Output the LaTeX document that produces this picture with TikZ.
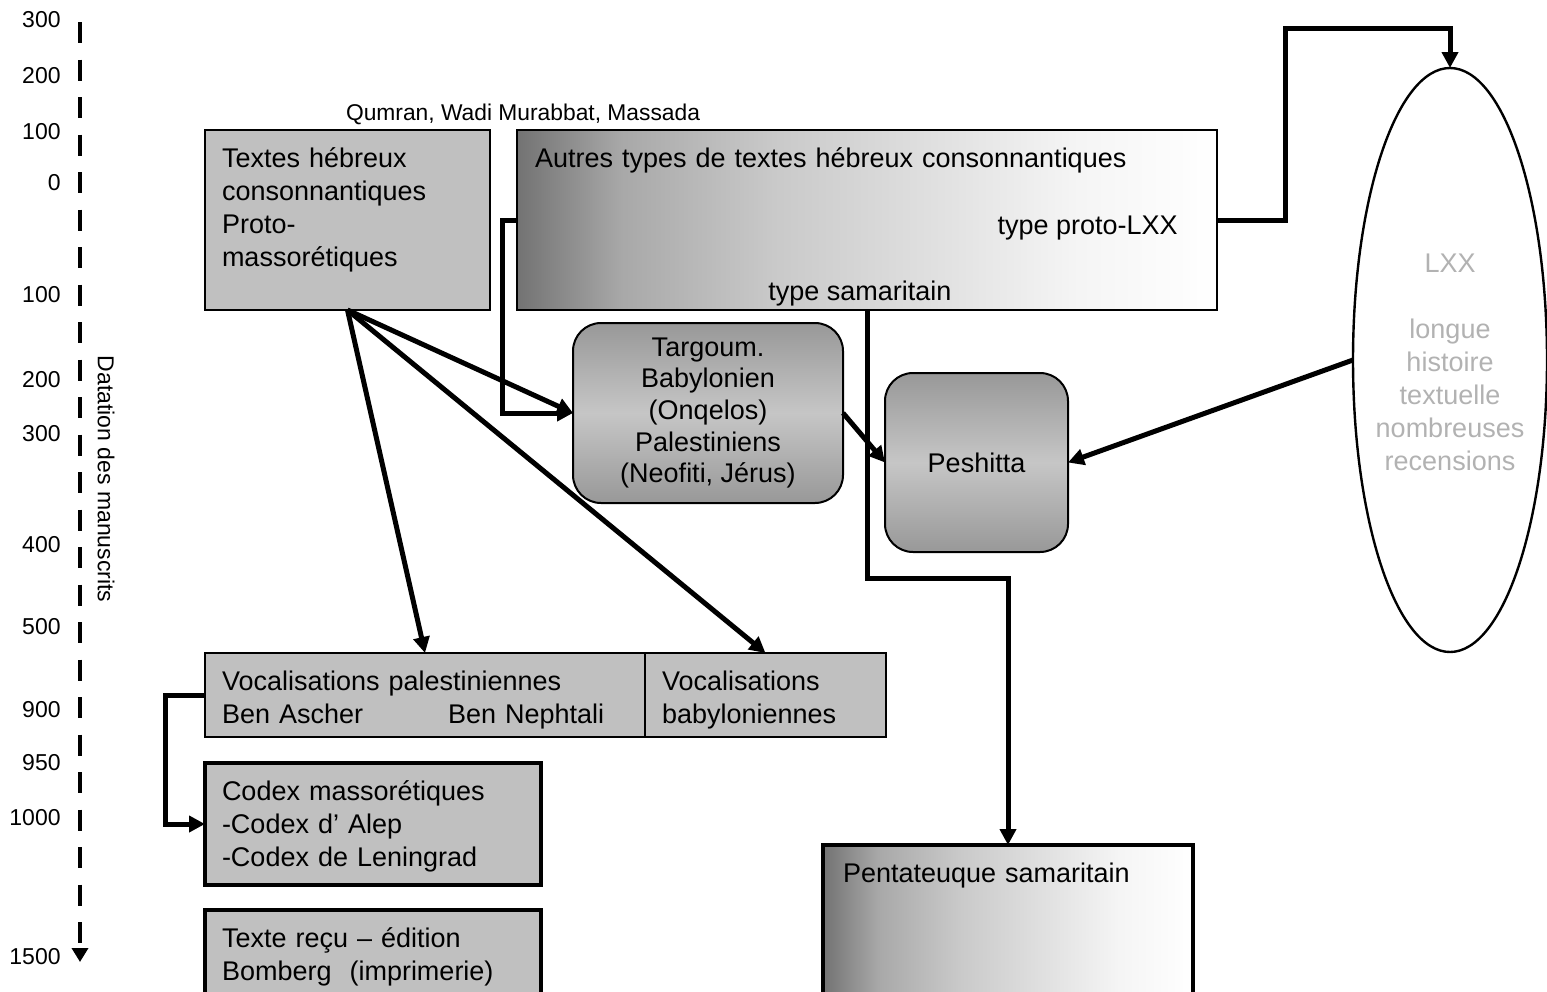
\documentclass[tikz,border=0pt]{standalone}
\usepackage{fontspec}
\setmainfont{Liberation Sans}
\usetikzlibrary{shapes.geometric, arrows.meta, positioning}
\definecolor{boxgray}{RGB}{192,192,192}
\definecolor{roundedge}{RGB}{152,152,152}
\definecolor{roundmid}{RGB}{198,198,198}
\definecolor{lxxgray}{RGB}{178,178,178}
\pgfdeclarehorizontalshading{fadegray}{100bp}{%
    rgb(0bp)=(0.45,0.45,0.45);
    rgb(25bp)=(0.45,0.45,0.45);
    rgb(32.5bp)=(0.66,0.66,0.66);
    rgb(43.5bp)=(0.79,0.79,0.79);
    rgb(55bp)=(0.88,0.88,0.88);
    rgb(65bp)=(0.96,0.96,0.96);
    rgb(75bp)=(1,1,1);
    rgb(100bp)=(1,1,1)}
\newcommand{\diagfont}{\fontsize{13.5}{16.5}\selectfont}
\newcommand{\axisfont}{\fontsize{11.5}{13}\selectfont}
\tikzset{
    boxbase/.style={
        rectangle,
        draw=black,
        line width=1pt,
        outer sep=0pt,
        inner xsep=8.5pt,
        inner ysep=0pt,
        text height=18.5pt,
        align=left,
        anchor=north west,
        font=\diagfont
    },
    graybox/.style={boxbase, fill=boxgray},
    heavybox/.style={graybox, line width=2.2pt},
    fadebox/.style={boxbase, shading=fadegray},
    roundbox/.style={
        rectangle,
        rounded corners=14pt,
        draw=black,
        line width=1pt,
        top color=roundedge,
        bottom color=roundedge,
        middle color=roundmid,
        outer sep=0pt,
        align=center,
        anchor=north west,
        font=\diagfont
    },
    lxxshape/.style={
        ellipse,
        draw=black,
        line width=1.2pt,
        fill=white,
        minimum width=97pt,
        minimum height=292pt,
        inner sep=0pt,
        outer sep=0pt
    },
    lxxtext/.style={align=center, text=lxxgray, font=\diagfont},
    plaintext/.style={inner sep=0pt, font=\diagfont},
    % time scale
    yearlabel/.style={anchor=east, inner sep=0pt, font=\axisfont},
    timeaxis/.style={
        line width=2.4pt,
        dash pattern=on 10.5pt off 8.25pt,
        -{Triangle[length=7pt, width=8pt]}
    },
    flow/.style={
        line width=2.5pt,
        -{Triangle[length=8pt, width=8pt]}
    }
}
\begin{document}
\begin{tikzpicture}[x=0.5pt, y=-0.5pt, node distance=13pt]
    \useasboundingbox (0,0) rectangle (1547,991);

    % time scale on the left
    \coordinate (axistop) at (80,22);
    \coordinate (axisend) at (80,962);
    \draw[timeaxis] (axistop) -- (axisend);
    \foreach \yr/\ypos in {300/20, 200/76, 100/132, 0/183, 100/295, 200/380, 300/434,
                           400/545, 500/627, 900/710, 950/763, 1000/818, 1500/957}
        \node[yearlabel] (year\ypos) at (61,\ypos) {\yr};
    \node[font=\axisfont, rotate=-90] (datation) at (106,479) {Datation des manuscrits};

    \node[font=\fontsize{11.4}{13}\selectfont, anchor=base] (qumran) at (523,120) {Qumran, Wadi Murabbat, Massada};
    \node[graybox, text width=125.5pt, text depth=71.5pt] (textes) at (205,130) {Textes hébreux\\consonnantiques\\Proto-\\massorétiques};
    \node[fadebox, inner xsep=9pt, text width=332pt, text depth=71.5pt] (autres) at (517,130) {Autres types de textes hébreux consonnantiques};
    \node[plaintext, anchor=base east] (protolxx) at (1178,234) {type proto-LXX};
    \node[plaintext, anchor=base] (samtype) at (860,300) {type samaritain};

    \node[roundbox, minimum width=135pt, minimum height=90pt, font=\fontsize{13.5}{15.8}\selectfont] (targoum) at (573,323) {Targoum.\\Babylonien\\(Onqelos)\\Palestiniens\\(Neofiti, Jérus)};
    \node[roundbox, minimum width=91.5pt, minimum height=89.5pt] (peshitta) at (885,373) {Peshitta};

    \node[lxxshape] (lxx) at (1450,360) {};
    \node[lxxtext] (lxxnotes) at (1450,362) {LXX\\[16.5pt]longue\\histoire\\textuelle\\nombreuses\\recensions};

    \node[graybox, text width=203pt, text depth=23.5pt] (vocpal) at (205,653) {Vocalisations palestiniennes\\Ben Ascher\hspace{42.5pt}Ben Nephtali};
    \node[graybox, text width=103.5pt, text depth=23.5pt, right=0pt of vocpal] (vocbab) {Vocalisations\\babyloniennes};
    \node[heavybox, text width=151pt, text depth=42.5pt, below=13pt of vocpal.south west, anchor=north west] (codex) {Codex massorétiques\\-Codex d’ Alep\\-Codex de Leningrad};
    \node[heavybox, text width=151pt, text depth=26.5pt, below=12.5pt of codex.south west, anchor=north west] (recu) {Texte reçu – édition\\Bomberg\ \ (imprimerie)};
    \node[fadebox, line width=2.2pt, inner xsep=10pt, text width=165pt, text depth=59pt] (penta) at (823,845) {Pentateuque samaritain};

    \coordinate (lxxbend) at (1285,28);
    \coordinate (sambend) at (1008,578);

    \draw[flow] (textes.south) -- (targoum.west);
    \draw[flow] (textes.south) -- (vocpal.north);
    \draw[flow] (textes.south) -- (vocbab.north);
    \draw[flow] (autres.west) -- ++(-15,0) |- (targoum.west);
    \draw[flow] (targoum.east) -- (peshitta.west);
    \draw[flow] (lxx.west) -- (peshitta.east);
    \draw[flow] (autres.east) -| (lxxbend) -| (lxx.north);
    \draw[flow] (autres.south) |- (sambend) -- (penta.north);
    \draw[flow] (vocpal.west) -- ++(-40,0) |- (codex.west);
\end{tikzpicture}
\end{document}
